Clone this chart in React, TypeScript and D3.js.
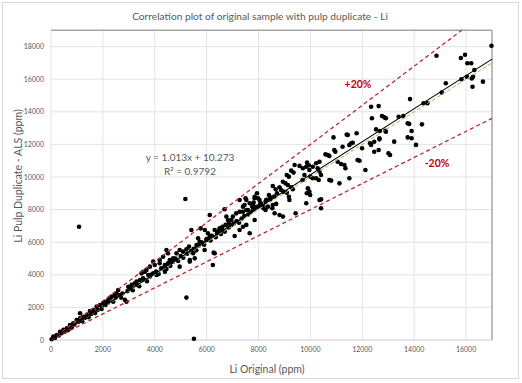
import React from "react";
import * as d3 from "d3";

const chartTitle = "Correlation plot of original sample with pulp duplicate - Li";
const xAxisTitle = "Li Original (ppm)";
const yAxisTitle = "Li Pulp Duplicate - ALS (ppm)";
const xTicks = [0, 2000, 4000, 6000, 8000, 10000, 12000, 14000, 16000];
const yTicks = [0, 2000, 4000, 6000, 8000, 10000, 12000, 14000, 16000, 18000];
const xMax = 17000;
const yMax = 19000;
const trendSlope = 1.013;
const trendIntercept = 10.273;
const equationText = "y = 1.013x + 10.273";
const r2Text = "R² = 0.9792";
const bandFactors = [1.2, 0.8];

// [original, duplicate] in ppm
const samplePairs: [number, number][] = [
  [16980,18050],[14860,17440],[15800,17300],[15960,17500],[16050,16980],[16200,16980],[16320,16560],[15820,16000],[16030,16150],[16220,16050],[16270,16150],[16250,15540],[16650,15850],[15220,15750],[15060,15180],[14360,14520],[14510,14520],[13840,14780],[13810,13250],[13900,12820],[13750,12430],[13900,12380],[14300,13230],[13400,13700],[13580,13740],[12340,14310],[12630,14350],[12370,13600],[12760,13740],[12850,13660],[12910,13600],[12530,12920],[12680,12820],[12890,12840],[12660,12380],
  [10890,12430],[11400,12600],[11780,12680],[11630,12100],[11500,11960],[11240,11860],[10920,11650],[10960,11550],[10580,11390],[10670,11350],[10730,11290],[11050,10940],[11180,10800],[11310,10740],[11350,10540],[11820,11040],[11890,11000],[12120,10430],[11990,11760],[12460,12160],[10730,9820],[11120,9610],[9870,10880],[9940,10720],[9580,10680],[9710,10540],[9390,10740],[9260,10390],[9350,10270],[9090,10120],[9170,10020],[10280,10540],[10350,10330],[10410,10120],[10220,9920],[10320,9820],[10000,10020],[10090,9920],[8940,9710],[9040,9610],[9130,9510],[9260,9370],[9320,9250],[8810,9370],[8870,9200],[8960,9100],[9090,9040],[8550,9450],[8660,9250],[8710,9000],[9170,8790],[9190,8590],[9900,9300],[9960,9100],[9990,8900],[9840,8390],[9430,7780],[10350,8590],[10410,8080],[8400,8900],[8450,8630],[8360,8180],[8530,8080],[8040,8590],[8070,8390],[8190,8080],[8270,7980],[7850,8700],[7810,8430],[7760,8180],[7530,8590],[7460,8280],[7590,7980],[7400,7870],[8620,7780],[8810,7670],[8940,7570],[8550,8280],[8680,8350],
  [14070,11970],[13750,13300],[13230,12170],[12910,12780],[12660,12310],[12460,11550],[12630,11660],[13010,11450],[13070,11350],[12340,11970],[12300,12070],[11440,12580],[11570,12070],[11500,9920],[10800,9780],[10220,10840],[10350,10940],[10090,10630],[9840,10630],[9770,10120],[9960,10430],[9700,9820],[10410,8630],[9860,9000],
  [5180,8650],[7940,9000],[7850,8790],[7980,8700],[7270,8590],[7500,8700],[7660,8390],[7780,8280],[8270,8490],[8190,8220],[7400,8180],[7530,7980],[7270,7870],[7140,7770],[7010,7570],[6950,7360],[6690,8020],[6760,7570],[6820,7360],[6860,7160],[6730,7060],[6610,6950],[6500,6850],[6440,6650],[6310,6750],[7850,7360],[7660,6550],[7080,6380],[7270,6750],[7400,6950],[7530,7060],[6120,7670],[5770,6850],[5930,6750],[6050,6550],[6120,6340],[5990,6140],[5410,6750],[5670,6240],[5730,6030],[5860,5930],[5610,5830],[6270,5360],[5320,5730],[5220,5570],[5090,5420],[4960,5520],[4840,5320],[5480,5320],[5540,5010],[5350,4910],[4710,5010],[4580,4910],[4450,5520],[4510,5320],[4960,4500],[4190,4710],[4000,4600],[3940,4810],[3810,4500],[3680,4300],[3550,4190],[3940,4090],[4070,3990],[3810,3890],[4320,4400],[4390,4190],
  [5220,2600],[5510,80],[1080,6950],[5350,4810],[6310,5320],[5920,5520],[6240,4600],
  [4320,5110],[4190,4910],[4390,4600],[4510,4710],[4640,4810],[3490,4090],[3620,4190],[3750,3990],[3550,3790],[3430,3680],[3300,3580],[3230,3480],[3110,3380],[2980,3270],[2850,2460],[2910,2350],[2590,3070],[2530,2870],[2460,2760],[2340,2660],[2270,2560],[2210,2460],[2080,2350],[2010,2250],[1890,2150],[1760,2050],[1120,1640],[1630,1840],[1500,1780],[1380,1540],[1240,1430],[1120,1330],[990,1230],[860,1030],[730,920],[610,720],[480,620],[350,510],[220,310],[90,210],[25,50],
  [150,120],[300,280],[400,420],[520,500],[650,600],[800,760],[900,950],[1050,1100],[1200,1150],[1300,1350],[1450,1400],[1550,1600],[1700,1650],[1800,1850],[1950,1900],[2100,2150],[2200,2300],[2400,2350],[2500,2600],[2650,2750],[2750,2850],[2700,2600],[2950,3000],[3050,3150],[3150,3050],[3300,3400],[3400,3300],[3600,3700],[3700,3600],[3850,4000],[4050,4200],[4150,4050],[4250,4400],[4450,4350],[4600,4550],[4700,4800],[4800,5000],[4900,4850],[5000,5150],[5100,5050],[5250,5300],[5400,5450],[5500,5600],[5600,5500],[5700,5800],[5800,6000],[5900,5850],[6000,6200],[6150,6100],[6200,6400],[6350,6300],[6400,6550],[6550,6500],[6600,6750],[6700,6650],[6850,6900],[6950,7050],[7050,7150],[7150,7300],[7250,7200],[7350,7450],[7450,7600],[7600,7700],[7700,7850],[7800,8000],[7900,8150],[8000,8200],[8100,8350],[8300,8600],[8450,8750],[8600,8800]
];

const W = 522;
const H = 383;
const plot = { left: 51, right: 492, top: 30.3, bottom: 340 };
const font = "Lato, 'Open Sans', sans-serif";
const textGrey = "#595959";

export default function App() {
  const x = d3.scaleLinear().domain([0, xMax]).range([plot.left, plot.right]);
  const y = d3.scaleLinear().domain([0, yMax]).range([plot.bottom, plot.top]);
  const line = d3.line<[number, number]>().x((d) => x(d[0])).y((d) => y(d[1]));
  const trend: [number, number][] = [[0, trendIntercept], [xMax, trendSlope * xMax + trendIntercept]];
  const oneToOne: [number, number][] = [[0, 0], [xMax, xMax]];
  const bands = bandFactors.map((f) => {
    const xEnd = Math.min(xMax, yMax / f);
    return [[0, 0], [xEnd, xEnd * f]] as [number, number][];
  });

  return (
    <svg width={W} height={H} style={{ position: "absolute", left: 0, top: 0, fontFamily: font }}>
      <rect x={2.5} y={2.5} width={516} height={376} fill="#fff" stroke="#d9d9d9" />
      <text x={260} y={20} textAnchor="middle" fontSize={10.2} fill={textGrey}>{chartTitle}</text>
      {xTicks.map((t) => (
        <line key={"gx" + t} x1={x(t)} x2={x(t)} y1={plot.top} y2={plot.bottom} stroke="#e3e3e3" />
      ))}
      {yTicks.map((t) => (
        <line key={"gy" + t} x1={plot.left} x2={plot.right} y1={y(t)} y2={y(t)} stroke="#e3e3e3" />
      ))}
      <line x1={plot.left} x2={plot.right} y1={plot.bottom} y2={plot.bottom} stroke="#d9d9d9" />
      <line x1={plot.left} x2={plot.right} y1={plot.top} y2={plot.top} stroke="#a6a6a6" strokeWidth={1.5} />
      <line x1={plot.right} x2={plot.right} y1={plot.top} y2={plot.bottom} stroke="#a6a6a6" strokeWidth={1.5} />
      {xTicks.map((t) => (
        <text key={"tx" + t} x={x(t)} y={352} textAnchor="middle" fontSize={7} fill={textGrey}>{t}</text>
      ))}
      {yTicks.map((t) => (
        <text key={"ty" + t} x={44} y={y(t) + 2.5} textAnchor="end" fontSize={7} fill={textGrey}>{t}</text>
      ))}
      <text x={267} y={373} textAnchor="middle" fontSize={10.5} fill={textGrey}>{xAxisTitle}</text>
      <text transform={`translate(22,176) rotate(-90)`} textAnchor="middle" fontSize={10.5} fill={textGrey}>{yAxisTitle}</text>
      {samplePairs.map((d, i) => (
        <circle key={i} cx={x(d[0])} cy={y(d[1])} r={2.3} fill="#000" />
      ))}
      <path d={line(oneToOne) || ""} fill="none" stroke="#8fbf5a" strokeWidth={1} strokeDasharray="4,2" />
      {bands.map((b, i) => (
        <path key={"b" + i} d={line(b) || ""} fill="none" stroke="#c0282d" strokeWidth={1.3} strokeDasharray="4,3" />
      ))}
      <path d={line(trend) || ""} fill="none" stroke="#000" strokeWidth={1.1} />
      <text x={190} y={161} textAnchor="middle" fontSize={10} fill={textGrey}>{equationText}</text>
      <text x={190} y={174.5} textAnchor="middle" fontSize={10} fill={textGrey}>{r2Text}</text>
      <text x={358} y={88} textAnchor="middle" fontSize={10.5} fontWeight="bold" fill="#c00000">+20%</text>
      <text x={437} y={167} textAnchor="middle" fontSize={10.5} fontWeight="bold" fill="#c00000">-20%</text>
    </svg>
  );
}
